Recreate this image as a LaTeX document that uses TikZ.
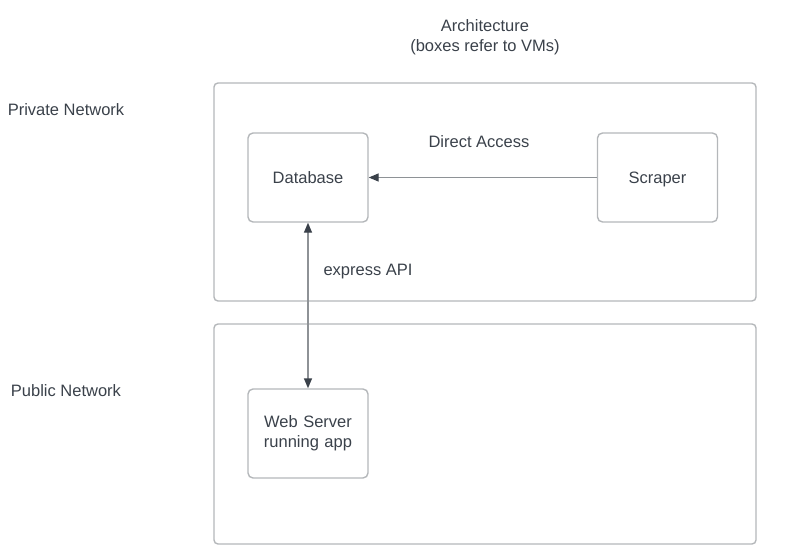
\documentclass[tikz,border=0pt]{standalone}
\usepackage{fontspec}
\setmainfont{Liberation Sans}
\usetikzlibrary{arrows.meta}
\definecolor{txt}{HTML}{3A414A}
\definecolor{boxline}{HTML}{B4B7BA}
\definecolor{arrline}{HTML}{8E9296}
\tikzset{
  every node/.style={text=txt, font=\fontsize{16.5}{20}\selectfont, inner sep=0pt},
  region/.style={draw=boxline, line width=1.4pt, rounded corners=4pt},
  vm/.style={draw=boxline, line width=1.4pt, rounded corners=5pt, minimum width=120pt, minimum height=89pt, align=center},
  conn/.style={draw=arrline, line width=1.4pt}
}
\begin{document}
\begin{tikzpicture}[x=1pt,y=-1pt]
\useasboundingbox (0,0) rectangle (785,559);
\node (title) at (485,37.5) [align=center] {Architecture\\(boxes refer to VMs)};
\draw[region] (214,83) rectangle (756,301);
\draw[region] (214,324) rectangle (756,544);
\node (priv) at (66,110) {Private Network};
\node (pub) at (66,391) {Public Network};
\node[vm, text height=12pt, text depth=0pt] (db) at (308,177.5) {Database};
\node[vm, text height=12pt, text depth=0pt] (scr) at (657.5,177.5) {Scraper};
\node[vm, text width=110pt] (web) at (308,433.5) {Web Server\\running app};
\node (da) at (479,141.5) {Direct Access};
\node (api) at (368,271.5) {express API};
\draw[conn, -{Triangle[length=10pt,width=8pt,color=txt]}] (scr) -- (db);
\draw[conn, {Triangle[length=10pt,width=8pt,color=txt]}-{Triangle[length=10pt,width=8pt,color=txt]}] (db) -- (web);
\end{tikzpicture}
\end{document}
